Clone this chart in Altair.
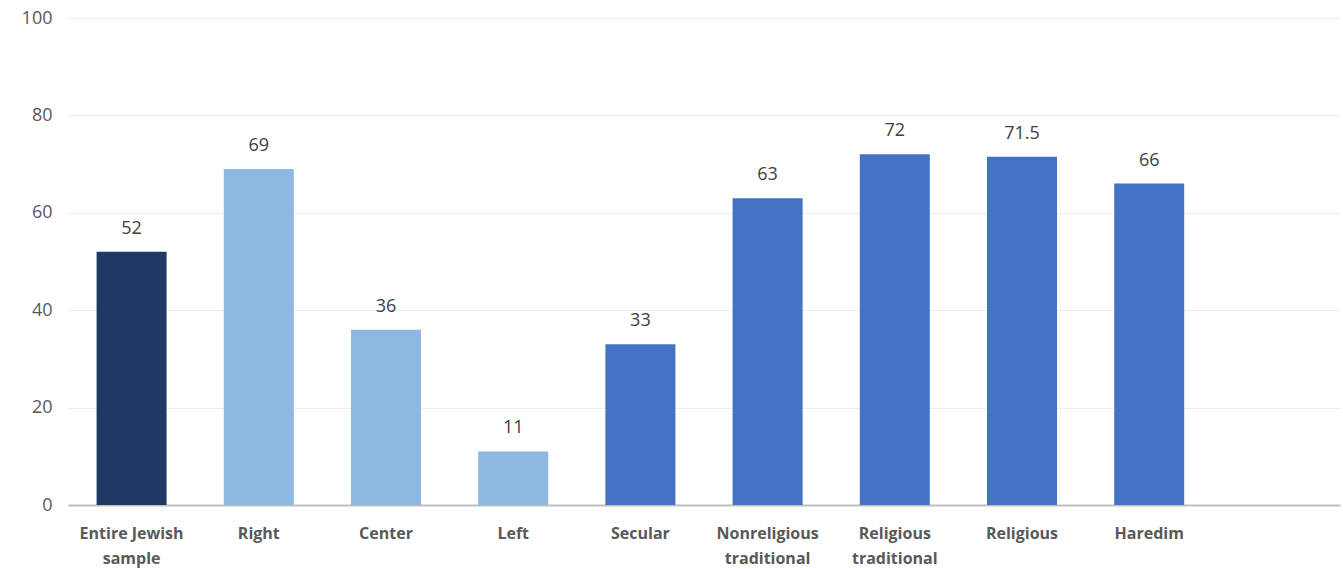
import altair as alt
import pandas as pd

categories = ["Entire Jewish|sample", "Right", "Center", "Left", "Secular",
              "Nonreligious|traditional", "Religious|traditional", "Religious", "Haredim"]
values = [52, 69, 36, 11, 33, 63, 72, 71.5, 66]
groups = ["all", "pol", "pol", "pol", "rel", "rel", "rel", "rel", "rel"]
labels = ["52", "69", "36", "11", "33", "63", "72", "71.5", "66"]
domain = categories + [" "]

df = pd.DataFrame({"cat": categories, "val": values, "grp": groups, "lab": labels})

x = alt.X("cat:N", sort=domain,
          scale=alt.Scale(domain=domain, paddingInner=0, paddingOuter=0),
          axis=alt.Axis(title=None, labelAngle=0, ticks=False,
                        labelExpr="split(datum.label, '|')",
                        labelFont="Open Sans", labelFontWeight="bold", labelFontSize=16,
                        labelColor="#595959", labelPadding=20, labelLineHeight=25,
                        domainColor="#BFBFBF", domainWidth=2, grid=False))

bars = alt.Chart(df).mark_bar(size=70).encode(
    x=x,
    y=alt.Y("val:Q", scale=alt.Scale(domain=[0, 100], nice=False),
            axis=alt.Axis(title=None, values=[0, 20, 40, 60, 80, 100], ticks=False, domain=False,
                          labelFont="Open Sans", labelFontSize=18, labelColor="#595959",
                          labelPadding=16, gridColor="#EDEDED", gridWidth=1)),
    color=alt.Color("grp:N", scale=alt.Scale(domain=["all", "pol", "rel"],
                                             range=["#203864", "#8DB8E1", "#4472C4"]),
                    legend=None),
)

text = alt.Chart(df).mark_text(dy=-23, font="Open Sans", fontSize=18, color="#404040").encode(
    x=alt.X("cat:N", sort=domain, scale=alt.Scale(domain=domain, paddingInner=0, paddingOuter=0)),
    y="val:Q",
    text="lab:N",
)

chart = (bars + text).properties(
    width=1272, height=487,
    autosize=alt.AutoSizeParams(type="none"),
    padding={"left": 68, "top": 18, "right": 3, "bottom": 64},
).configure(background="white", view=alt.ViewConfig(stroke=None))

chart.save("out.html", embed_options={"renderer": "svg", "actions": False})
